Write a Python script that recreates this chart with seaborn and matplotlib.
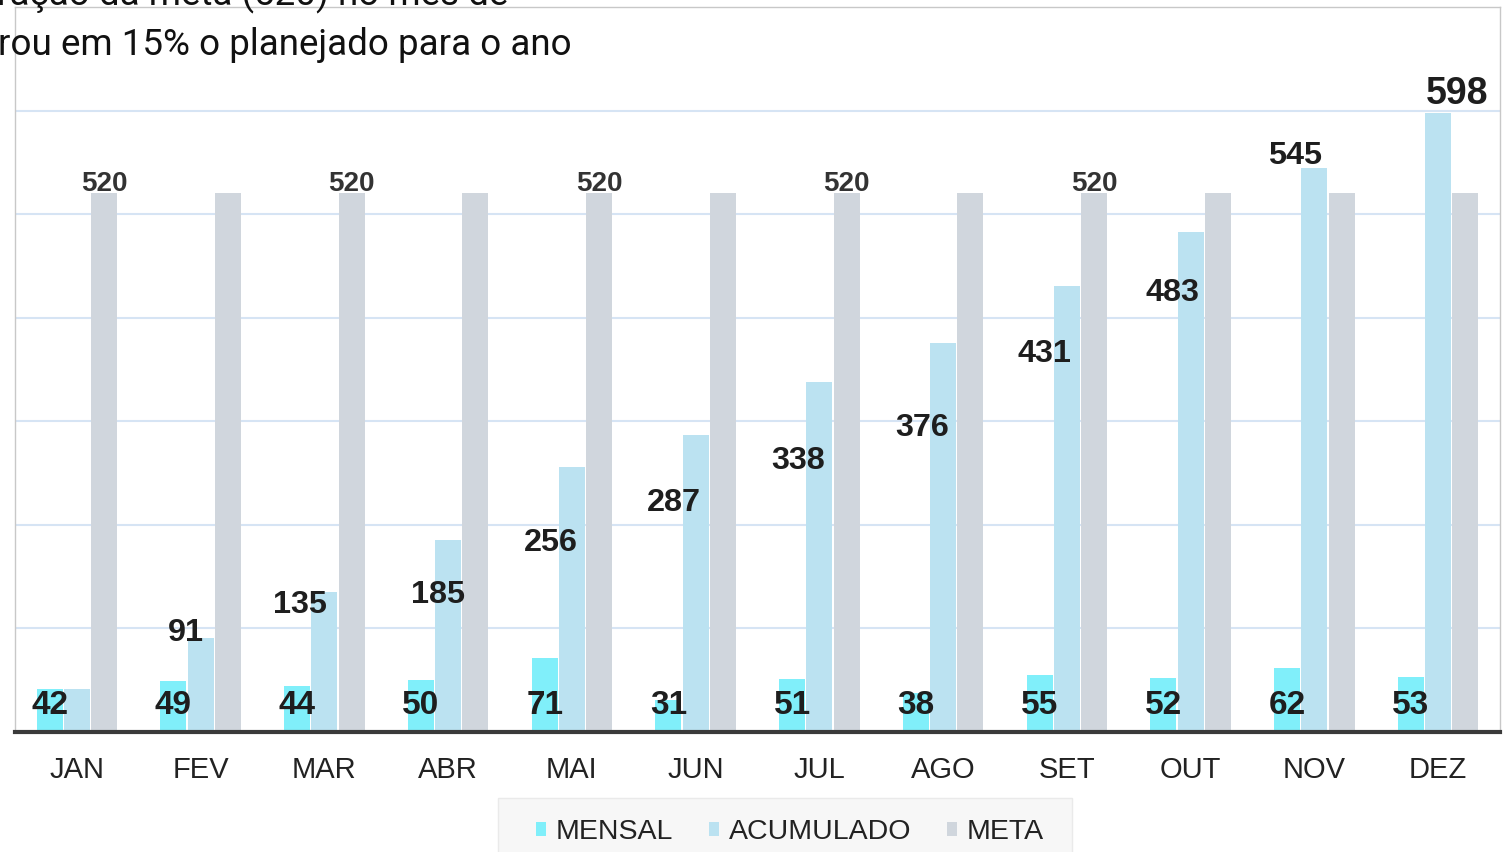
import numpy as np
import pandas as pd
import seaborn as sns
import matplotlib.pyplot as plt
from matplotlib.patches import Rectangle

meses = ["JAN", "FEV", "MAR", "ABR", "MAI", "JUN", "JUL", "AGO", "SET", "OUT", "NOV", "DEZ"]
mensal = [42, 49, 44, 50, 71, 31, 51, 38, 55, 52, 62, 53]
acumulado = [42, 91, 135, 185, 256, 287, 338, 376, 431, 483, 545, 598]
meta = [520] * 12
series = ["MENSAL", "ACUMULADO", "META"]
titulo = ["ração da meta (520) no mês de", "rou em 15% o planejado para o ano"]

cores = ["#80EFFA", "#BBE2F1", "#D0D6DD"]

df = pd.DataFrame({
    "mes": meses * 3,
    "serie": np.repeat(series, len(meses)),
    "valor": mensal + acumulado + meta,
})

sns.set_style("white")
plt.rcParams["font.family"] = ["Liberation Sans", "DejaVu Sans"]

fig, ax = plt.subplots(figsize=(15.06, 8.52), dpi=100)
fig.subplots_adjust(left=15 / 1506, right=1500 / 1506, bottom=1 - 732 / 852, top=1 - 7 / 852)

sns.barplot(data=df, x="mes", y="valor", hue="serie", palette=cores, saturation=1,
            width=0.66, gap=0.04, linewidth=0, ax=ax)

ax.set_xlim(-0.5, 11.5)
ax.set_ylim(0, 700)
ax.set_yticks([100, 200, 300, 400, 500, 600])
ax.set_yticklabels([])
ax.yaxis.grid(True, color="#D6E4F4", lw=1.5)
ax.set_axisbelow(True)
ax.set_xlabel("")
ax.set_ylabel("")
ax.tick_params(axis="both", length=0)
ax.tick_params(axis="x", pad=17.5, labelsize=21, labelcolor="#222222")
for s in ["left", "top", "right"]:
    ax.spines[s].set_color("#C8C8C8")
    ax.spines[s].set_linewidth(1)
ax.spines["bottom"].set_color("#3A3A3A")
ax.spines["bottom"].set_linewidth(3)

px = fig.dpi / 72.0

def label(bar, txt, dx, dy, size, color="#1E1E1E"):
    # dx, dy: offset (pixels) of the text centre from the bar's top centre
    x = bar.get_x() + bar.get_width() / 2
    h = bar.get_height()
    cap = 0.716 * size * px
    ax.annotate(txt, xy=(x, h), xytext=(dx, dy - cap / 2), textcoords="offset pixels",
                ha="center", va="baseline", fontsize=size, fontweight="bold", color=color)

# mensal: sitting at the base of the bars
for bar, v in zip(ax.containers[0], mensal):
    x = bar.get_x() + bar.get_width() / 2
    ax.annotate(str(v), xy=(x, 0), xytext=(0, 18), textcoords="offset pixels",
                ha="center", va="baseline", fontsize=24, fontweight="bold", color="#1E1E1E")

# acumulado: hand placed beside the bars
acc_dx = [0, -15, -24, -10, -21, -22, -21, -21, -22, -18, -19, 19]
acc_dy = [0, 8, -9, -51, -73, -65, -75, -82, -65, -58, 15, 22]
for i, (bar, v) in enumerate(zip(ax.containers[1], acumulado)):
    if i == 0:
        continue
    size = 27 if i == len(acumulado) - 1 else 23.3
    label(bar, str(v), acc_dx[i], acc_dy[i], size)

# meta: every other month
for i, (bar, v) in enumerate(zip(ax.containers[2], meta)):
    if i % 2 == 0 and i <= 8:
        x = bar.get_x() + bar.get_width() / 2
        ax.annotate(str(v), xy=(x, v), xytext=(0, 2), textcoords="offset pixels",
                    ha="center", va="baseline", fontsize=20, fontweight="bold", color="#333333")

handles, labels = ax.get_legend_handles_labels()
ax.get_legend().remove()
fig.patches.append(Rectangle((498 / 1506, -0.05), 574 / 1506, 1 - 798 / 852 + 0.05,
                             transform=fig.transFigure, facecolor="#F7F7F7",
                             edgecolor="#EAEAEA", lw=1, zorder=0))
fig.legend(handles, labels, loc="center", bbox_to_anchor=(790 / 1506, 1 - 832 / 852),
           bbox_transform=fig.transFigure, ncol=3, frameon=False, fontsize=20.5,
           handlelength=0.35, handleheight=0.35, handletextpad=0.35, columnspacing=1.25,
           labelcolor="#222222")

fig.text(-3 / 1506, 1 - 5 / 852, titulo[0], fontsize=26.5, family=["Roboto", "DejaVu Sans"],
         color="#111111", va="baseline", ha="left", zorder=10)
fig.text(-2 / 1506, 1 - 55 / 852, titulo[1], fontsize=26.5, family=["Roboto", "DejaVu Sans"],
         color="#111111", va="baseline", ha="left", zorder=10)

fig.savefig("out.png", dpi=100)
